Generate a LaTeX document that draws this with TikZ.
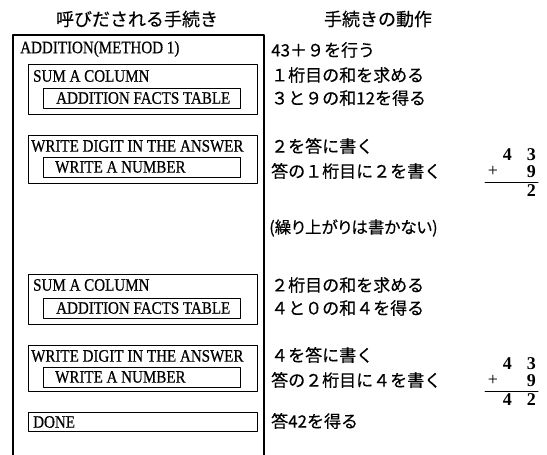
\documentclass[tikz,border=0pt]{standalone}
\usepackage{fontspec}
\setmainfont{Liberation Serif}
\newfontfamily\enfont[FakeStretch=0.86, FakeBold=0.6]{Liberation Serif}
\newfontfamily\jpfont[FakeBold=0.4]{Noto Sans CJK JP}
\tikzset{
  proc/.style={draw, line width=1.1pt, anchor=north west, inner sep=0pt, minimum width=229pt},
  fact/.style={draw, line width=1.1pt, anchor=north west, inner sep=0pt, minimum width=197pt, minimum height=20pt},
  en/.style={anchor=west, inner sep=0pt, font=\enfont\fontsize{17.5}{20}\selectfont},
  jp/.style={anchor=west, inner sep=0pt, font=\jpfont\fontsize{17}{20}\selectfont},
  hd/.style={inner sep=0pt, font=\jpfont\fontsize{18}{20}\selectfont},
  dig/.style={anchor=east, inner sep=0pt, font=\bfseries\fontsize{18}{20}\selectfont},
}
\begin{document}
\begin{tikzpicture}[x=1pt, y=-1pt, line join=round, line cap=round]
\useasboundingbox (0,0) rectangle (547,455);
% headers
\node[hd] (hcall) at (137,19) {呼びだされる手続き};
\node[hd] (hact) at (378,19) {手続きの動作};
% outer procedure
\draw[line width=1.1pt] (13,455) -- (13,35) -- (264,35) -- (264,455);
\node[en] (add) at (20,49) {ADDITION(METHOD 1)};
% first digit
\node[proc, minimum height=50pt] (sum1) at (28,64) {};
\node[en] (sum1t) at (33,76) {SUM A COLUMN};
\node[fact] (tab1) at (43,88) {};
\node[en] (tab1t) at (56,98) {ADDITION FACTS TABLE};
\node[proc, minimum height=48pt] (wr1) at (28,135) {};
\node[en] (wr1t) at (31,146) {WRITE DIGIT IN THE ANSWER};
\node[fact] (num1) at (43,157) {};
\node[en] (num1t) at (55,167) {WRITE A NUMBER};
% second digit
\node[proc, minimum height=50pt] (sum2) at (28,274) {};
\node[en] (sum2t) at (33,285) {SUM A COLUMN};
\node[fact] (tab2) at (43,298) {};
\node[en] (tab2t) at (56,308) {ADDITION FACTS TABLE};
\node[proc, minimum height=46pt] (wr2) at (28,345) {};
\node[en] (wr2t) at (31,356) {WRITE DIGIT IN THE ANSWER};
\node[fact] (num2) at (43,367) {};
\node[en] (num2t) at (55,377) {WRITE A NUMBER};
\node[proc, minimum height=19pt] (done) at (28,412) {};
\node[en] (donet) at (33,422) {DONE};
% actions
\node[jp] (a1) at (271,50) {43＋９を行う};
\node[jp] (a2) at (271,75) {１桁目の和を求める};
\node[jp] (a3) at (271,98) {３と９の和12を得る};
\node[jp] (a4) at (271,146) {２を答に書く};
\node[jp] (a5) at (271,171) {答の１桁目に２を書く};
\node[jp, font=\jpfont\fontsize{16.5}{18}\selectfont\addfontfeatures{RawFeature=+palt}] (a6) at (269,228) {(繰り上がりは書かない)};
\node[jp] (a7) at (271,285) {２桁目の和を求める};
\node[jp] (a8) at (271,308) {４と０の和４を得る};
\node[jp] (a9) at (271,355) {４を答に書く};
\node[jp] (a10) at (271,380) {答の２桁目に４を書く};
\node[jp] (a11) at (271,421) {答42を得る};
% sums
\node[dig] (p1a) at (536,155) {4\hspace{15pt}3};
\node[dig] (p1b) at (536,172) {9};
\node[inner sep=0pt, font=\fontsize{18}{20}\selectfont] (p1s) at (493,171) {+};
\coordinate (r1l) at (485,182);
\coordinate (r1r) at (538,182);
\draw[line width=1pt] (r1l) -- (r1r);
\node[dig] (p1c) at (536,191) {2};
\node[dig] (p2a) at (536,364) {4\hspace{15pt}3};
\node[dig] (p2b) at (536,381) {9};
\node[inner sep=0pt, font=\fontsize{18}{20}\selectfont] (p2s) at (493,380) {+};
\coordinate (r2l) at (485,391);
\coordinate (r2r) at (538,391);
\draw[line width=1pt] (r2l) -- (r2r);
\node[dig] (p2c) at (536,400) {4\hspace{15pt}2};
\end{tikzpicture}
\end{document}
